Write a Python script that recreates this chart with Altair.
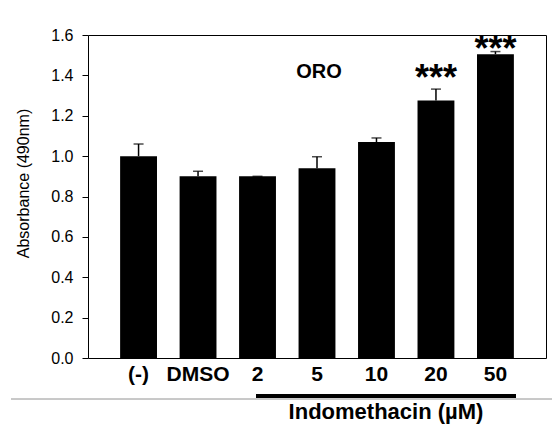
import altair as alt
import pandas as pd

categories = ["(-)", "DMSO", "2", "5", "10", "20", "50"]
means = [1.00, 0.90, 0.90, 0.94, 1.07, 1.275, 1.505]
errors = [0.06, 0.025, 0.0, 0.057, 0.02, 0.057, 0.013]
stars = ["", "", "", "", "", "***", "***"]
y_ticks = [0.0, 0.2, 0.4, 0.6, 0.8, 1.0, 1.2, 1.4, 1.6]

df = pd.DataFrame({"cat": categories, "mean": means, "err": errors, "star": stars})
df["top"] = df["mean"] + df["err"]

FONT = "Liberation Sans"

x_enc = alt.X("cat:N", sort=categories, title=None,
              scale=alt.Scale(paddingInner=0.38, paddingOuter=0.54),
              axis=alt.Axis(labelAngle=0, ticks=False, domain=False,
                            labelFontSize=21, labelFontWeight="bold",
                            labelColor="black", labelFont=FONT, labelPadding=5))
y_scale = alt.Scale(domain=[0, 1.6], nice=False)

base = alt.Chart(df)

bars = base.mark_bar(color="black").encode(
    x=x_enc,
    y=alt.Y("mean:Q", scale=y_scale, title="Absorbance (490nm)",
            axis=alt.Axis(values=y_ticks, format=".1f", grid=False, domain=False,
                          tickSize=6, tickColor="black", labelColor="black",
                          labelFontSize=16, labelFont=FONT, labelPadding=9,
                          titleFont=FONT, titleFontSize=16, titleFontWeight="normal",
                          titleColor="black", titleX=-65, titleY=148,
                          titleAlign="center", titleBaseline="middle")),
)

err_rule = base.mark_rule(color="black", strokeWidth=1.5).encode(
    x=alt.X("cat:N", sort=categories),
    y=alt.Y("mean:Q", scale=y_scale),
    y2="top:Q",
)

caps = base.mark_tick(color="black", size=10, thickness=1.5).encode(
    x=alt.X("cat:N", sort=categories),
    y=alt.Y("top:Q", scale=y_scale),
)

star20 = base.transform_filter(alt.datum.cat == "20").mark_text(
    fontSize=36, fontWeight="bold", font=FONT, baseline="alphabetic", dy=1, color="black"
).encode(x=alt.X("cat:N", sort=categories), y=alt.Y("top:Q", scale=y_scale), text="star:N")

star50 = base.transform_filter(alt.datum.cat == "50").mark_text(
    fontSize=36, fontWeight="bold", font=FONT, baseline="alphabetic", dy=9, color="black"
).encode(x=alt.X("cat:N", sort=categories), y=alt.Y("top:Q", scale=y_scale), text="star:N")

oro = alt.Chart(pd.DataFrame({"cat": ["5"], "v": [1.4], "t": ["ORO"]})).mark_text(
    fontSize=20, fontWeight="bold", font=FONT, baseline="middle", dy=-3, dx=2, color="black"
).encode(x=alt.X("cat:N", sort=categories), y=alt.Y("v:Q", scale=y_scale), text="t:N")

under_line = alt.Chart(df).mark_rule(color="black", strokeWidth=3.5).encode(
    x=alt.value(168), x2=alt.value(428), y=alt.value(361))

gray_line = alt.Chart(df).mark_rule(color="#c8c8c8", strokeWidth=1).encode(
    x=alt.value(-77), x2=alt.value(464), y=alt.value(364))

indo = alt.Chart(pd.DataFrame({"t": ["Indomethacin (µM)"]})).mark_text(
    fontSize=22, fontWeight="bold", font=FONT, baseline="alphabetic", align="center", color="black"
).encode(x=alt.value(298), y=alt.value(384), text="t:N")

chart = alt.layer(bars, err_rule, caps, star20, star50, oro, under_line, gray_line, indo).properties(
    width=458, height=323,
    background="white",
    autosize=alt.AutoSizeParams(type="none"),
    padding={"left": 80, "top": 27, "right": 6, "bottom": 68},
).configure_view(stroke="black", strokeWidth=1)

chart.save("out.html", embed_options={"renderer": "svg", "actions": False})
